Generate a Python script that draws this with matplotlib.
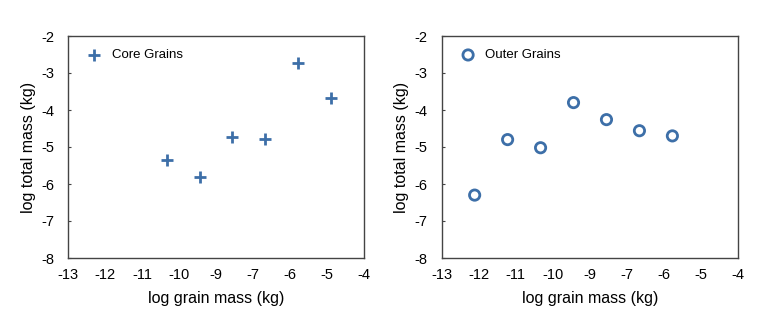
import numpy as np
import matplotlib
matplotlib.use("Agg")
import matplotlib.pyplot as plt

plt.rcParams['font.family'] = ['Liberation Sans', 'DejaVu Sans']

core_x = [-10, -9, -8, -7, -6, -5]
core_y = [-5.36, -5.80, -4.73, -4.78, -2.73, -3.68]
outer_x = [-12, -11, -10, -9, -8, -7, -6]
outer_y = [-6.30, -4.80, -5.02, -3.80, -4.26, -4.56, -4.70]
xtick_labels = ["-13", "-12", "-11", "-10", "-9", "-7", "-6", "-5", "-4"]
ytick_values = [-2, -3, -4, -5, -6, -7, -8]

color = "#3d6fa8"
spine_c = "#444444"

fig = plt.figure(figsize=(7.63, 3.27), dpi=100)
ax1 = fig.add_axes([68/763, 1-258/327, 296/763, 222/327])
ax2 = fig.add_axes([441.7/763, 1-258/327, 296.6/763, 222/327])

ax1.scatter(core_x, core_y, marker='+', s=70, linewidths=2, color=color, label="Core Grains")
ax2.scatter(outer_x, outer_y, marker='o', s=55, facecolors='none', edgecolors=color,
            linewidths=2, label="Outer Grains")

for ax in (ax1, ax2):
    ax.set_xlim(-13, -4)
    ax.set_ylim(-8, -2)
    ax.set_xticks(np.linspace(-13, -4, len(xtick_labels)))
    ax.set_xticklabels(xtick_labels)
    ax.set_yticks(ytick_values)
    ax.set_yticklabels([str(v) for v in ytick_values])
    ax.tick_params(axis='x', length=0, pad=7, labelsize=10.5)
    ax.tick_params(axis='y', direction='in', length=2, width=0.8, color=spine_c, pad=10, labelsize=10.5)
    for s in ax.spines.values():
        s.set_color(spine_c)
        s.set_linewidth(1.0)
    ax.set_xlabel("log grain mass (kg)", fontsize=11.5, labelpad=7)
    ax.set_ylabel("log total mass (kg)", fontsize=11.5, labelpad=4)
    ax.legend(loc='upper left', frameon=False, fontsize=9.5, handletextpad=0.3,
              borderaxespad=0.6, bbox_to_anchor=(0.0, 1.0))

fig.savefig("out.png", dpi=100)
